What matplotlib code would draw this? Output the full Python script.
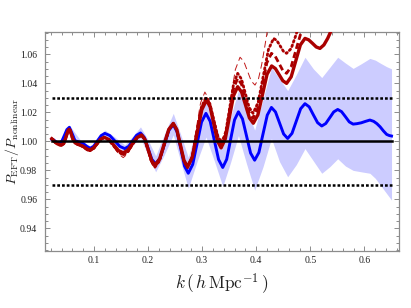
import matplotlib
matplotlib.use("Agg")
import matplotlib.pyplot as plt

# ---- data ----
k_blue = [0.022, 0.0255, 0.029, 0.0325, 0.036, 0.0406, 0.0453, 0.0499, 0.0545, 0.060,
          0.065, 0.072, 0.080, 0.087, 0.093, 0.0998, 0.1065, 0.1133, 0.120, 0.1293,
          0.1385, 0.1478, 0.157, 0.1643, 0.1715, 0.1788, 0.186, 0.193, 0.200, 0.207,
          0.214, 0.2222, 0.2303, 0.2385, 0.2466, 0.2535, 0.2605, 0.2674, 0.2743, 0.2825,
          0.2907, 0.2988, 0.307, 0.3148, 0.3225, 0.3303, 0.338, 0.3453, 0.3525, 0.3598,
          0.367, 0.3745, 0.382, 0.3895, 0.397, 0.4048, 0.4125, 0.4203, 0.428, 0.4355,
          0.443, 0.4505, 0.458, 0.466, 0.474, 0.482, 0.490, 0.4978, 0.5055, 0.5133,
          0.521, 0.5284, 0.5358, 0.5431, 0.5505, 0.5576, 0.5648, 0.5719, 0.579, 0.586,
          0.594, 0.602, 0.610, 0.617, 0.623, 0.629, 0.635, 0.641, 0.646, 0.650]
p_blue = [1.0014, 1.0010, 0.9999, 0.9989, 0.9985, 1.0001, 1.0041, 1.0081, 1.0097, 1.0050,
          1.0006, 0.9995, 0.9985, 0.9965, 0.9952, 0.9967, 1.0004, 1.0040, 1.0055, 1.0040,
          1.0003, 0.9965, 0.9950, 0.9966, 1.0004, 1.0042, 1.0058, 1.0027, 0.9952, 0.9876,
          0.9845, 0.9885, 0.9980, 1.0076, 1.0115, 1.0066, 0.9948, 0.9829, 0.9780, 0.9841,
          0.9987, 1.0133, 1.0193, 1.0138, 1.0007, 0.9875, 0.9820, 0.9876, 1.0012, 1.0148,
          1.0204, 1.0155, 1.0037, 0.9919, 0.9870, 0.9923, 1.0052, 1.0181, 1.0234, 1.0203,
          1.0127, 1.0051, 1.0020, 1.0055, 1.0140, 1.0225, 1.0260, 1.0238, 1.0183, 1.0129,
          1.0106, 1.0123, 1.0163, 1.0203, 1.0220, 1.0205, 1.0170, 1.0134, 1.0119, 1.0122,
          1.0128, 1.0138, 1.0147, 1.0138, 1.0122, 1.0100, 1.0072, 1.0048, 1.0040, 1.0037]

k_band = [0.022, 0.036, 0.0545, 0.075, 0.093, 0.1065, 0.120, 0.1385, 0.157, 0.1715,
          0.186, 0.200, 0.214, 0.2303, 0.2466, 0.2605, 0.2743, 0.2907, 0.307, 0.3225,
          0.338, 0.3525, 0.367, 0.382, 0.397, 0.4125, 0.428, 0.443, 0.458, 0.474,
          0.490, 0.5055, 0.521, 0.5358, 0.5505, 0.5648, 0.579, 0.594, 0.610, 0.620,
          0.629, 0.641, 0.650]
band_hi = [1.0028, 0.9998, 1.0112, 1.0008, 0.9967, 1.0018, 1.0078, 1.0030, 0.9975, 1.0035,
           1.0100, 1.0010, 0.9900, 1.0050, 1.0193, 1.0045, 0.9890, 1.0110, 1.0310, 1.0145,
           0.9960, 1.0170, 1.0350, 1.0225, 1.0078, 1.0290, 1.0510, 1.0430, 1.0350, 1.0460,
           1.0580, 1.0500, 1.0440, 1.0510, 1.0580, 1.0540, 1.0503, 1.0535, 1.0572, 1.0560,
           1.0540, 1.0515, 1.0500]
band_lo = [1.0000, 0.9972, 1.0082, 0.9982, 0.9937, 0.9990, 1.0033, 0.9978, 0.9925, 0.9973,
           1.0022, 0.9905, 0.9790, 0.9910, 1.0045, 0.9858, 0.9676, 0.9862, 1.0030, 0.9865,
           0.9690, 0.9855, 1.0040, 0.9845, 0.9664, 0.9825, 1.0020, 0.9860, 0.9756, 0.9840,
           0.9950, 0.9865, 0.9780, 0.9825, 0.9880, 0.9830, 0.9800, 0.9790, 0.9780, 0.9745,
           0.9700, 0.9640, 0.9595]

k_red = [0.022, 0.025, 0.028, 0.032, 0.036, 0.040, 0.044, 0.047, 0.050, 0.052,
         0.054, 0.056, 0.058, 0.061, 0.065, 0.070, 0.074, 0.079, 0.084, 0.088,
         0.0926, 0.0992, 0.1058, 0.1124, 0.119, 0.1278, 0.1365, 0.1453, 0.154, 0.1625,
         0.171, 0.1795, 0.188, 0.1942, 0.2004, 0.2066, 0.2128, 0.2213, 0.2297, 0.2382,
         0.2466, 0.2532, 0.2598, 0.2664, 0.273, 0.2818, 0.2905, 0.2993, 0.308, 0.3148,
         0.3215, 0.3283, 0.335, 0.3427, 0.3503, 0.358, 0.3656, 0.3728, 0.3801, 0.3873,
         0.3945, 0.403, 0.4115, 0.4199, 0.4284, 0.4353, 0.4422, 0.4491, 0.456, 0.4645,
         0.473, 0.4815, 0.490, 0.4969, 0.5039, 0.5108, 0.5177, 0.525, 0.532, 0.539,
         0.546]
p_red = [1.0018, 1.0008, 0.9995, 0.9984, 0.9977, 0.9975, 0.9985, 1.0015, 1.0050, 1.0072,
         1.0083, 1.0075, 1.0050, 1.0015, 0.9990, 0.9980, 0.9975, 0.9968, 0.9955, 0.9946,
         0.9941, 0.9954, 0.9985, 1.0015, 1.0028, 1.0012, 0.9975, 0.9937, 0.9921, 0.9939,
         0.9983, 1.0026, 1.0044, 1.0014, 0.9941, 0.9867, 0.9837, 0.9879, 0.9981, 1.0082,
         1.0124, 1.0080, 0.9975, 0.9869, 0.9825, 0.9892, 1.0055, 1.0218, 1.0285, 1.0237,
         1.0120, 1.0003, 0.9955, 1.0017, 1.0166, 1.0315, 1.0377, 1.0340, 1.0251, 1.0162,
         1.0125, 1.0183, 1.0323, 1.0462, 1.0520, 1.0502, 1.0460, 1.0418, 1.0400, 1.0445,
         1.0555, 1.0665, 1.0710, 1.0700, 1.0676, 1.0651, 1.0641, 1.0665, 1.0710, 1.0768,
         1.0830]

k_early = k_red[:44]

k_dot = k_early + [0.273, 0.2815, 0.290, 0.2985, 0.307, 0.3143, 0.3215, 0.3288, 0.336, 0.3434,
                   0.3508, 0.3582, 0.3656, 0.3727, 0.3798, 0.3869, 0.394, 0.4035, 0.413, 0.4225,
                   0.432, 0.438, 0.444, 0.450, 0.456, 0.4645, 0.473, 0.4815]
p_dot = [1.0018, 1.0008, 0.9995, 0.9984, 0.9977, 0.9973, 0.9985, 1.0015, 1.0050, 1.0072,
         1.0083, 1.0075, 1.0050, 1.0015, 0.9990, 0.9980, 0.9973, 0.9965, 0.9952, 0.9942,
         0.9936, 0.9950, 0.9983, 1.0013, 1.0026, 1.0008, 0.9968, 0.9928, 0.9906, 0.9928,
         0.9978, 1.0022, 1.0042, 1.0010, 0.9934, 0.9856, 0.9824, 0.9866, 0.9974, 1.0078,
         1.0124, 1.0078, 0.9970, 0.9862,
         0.9818, 0.9889, 1.0062, 1.0234, 1.0305, 1.0259, 1.0148, 1.0036, 0.9990, 1.0060,
         1.0230, 1.0399, 1.0469, 1.0429, 1.0331, 1.0233, 1.0193, 1.0269, 1.0452, 1.0634,
         1.0710, 1.0695, 1.0659, 1.0622, 1.0607, 1.0640, 1.0730, 1.0830]

k_dash = k_early + [0.273, 0.2815, 0.290, 0.2985, 0.307, 0.3143, 0.3215, 0.3288, 0.336, 0.3434,
                    0.3508, 0.3582, 0.3656, 0.3727, 0.3798, 0.3869, 0.394, 0.4025, 0.411, 0.4195,
                    0.428, 0.435, 0.442, 0.449, 0.456, 0.4645, 0.473, 0.4815, 0.490]
p_dash = [1.0018, 1.0008, 0.9995, 0.9984, 0.9977, 0.9974, 0.9985, 1.0015, 1.0050, 1.0072,
          1.0083, 1.0075, 1.0050, 1.0015, 0.9990, 0.9980, 0.9974, 0.9966, 0.9953, 0.9944,
          0.9938, 0.9952, 0.9984, 1.0014, 1.0027, 1.0010, 0.9971, 0.9931, 0.9910, 0.9932,
          0.9980, 1.0024, 1.0043, 1.0012, 0.9937, 0.9860, 0.9829, 0.9872, 0.9977, 1.0080,
          1.0124, 1.0079, 0.9972, 0.9865,
          0.9822, 0.9891, 1.0059, 1.0226, 1.0295, 1.0249, 1.0138, 1.0026, 0.9980, 1.0047,
          1.0207, 1.0368, 1.0434, 1.0394, 1.0297, 1.0199, 1.0159, 1.0225, 1.0383, 1.0541,
          1.0607, 1.0587, 1.0538, 1.0489, 1.0469, 1.0515, 1.0625, 1.0735, 1.0800]

k_thin = k_early + [0.273, 0.281, 0.289, 0.297, 0.305, 0.3125, 0.320, 0.3275, 0.335, 0.3438,
                    0.3525, 0.3613, 0.370, 0.3769, 0.3838, 0.3907, 0.3976, 0.404, 0.410, 0.416,
                    0.422]
p_thin = [1.0018, 1.0008, 0.9995, 0.9984, 0.9976, 0.9970, 0.9982, 1.0013, 1.0048, 1.0070,
          1.0080, 1.0072, 1.0047, 1.0012, 0.9988, 0.9977, 0.9970, 0.9960, 0.9945, 0.9933,
          0.9928, 0.9945, 0.9980, 1.0011, 1.0022, 1.0003, 0.9960, 0.9915, 0.9888, 0.9915,
          0.9970, 1.0018, 1.0040, 1.0005, 0.9925, 0.9845, 0.9815, 0.9860, 0.9970, 1.0078,
          1.0125, 1.0082, 0.9980, 0.9875,
          0.9830, 0.9905, 1.0085, 1.0265, 1.0340, 1.0290, 1.0170, 1.0050, 1.0000, 1.0085,
          1.0290, 1.0495, 1.0580, 1.0552, 1.0484, 1.0416, 1.0388, 1.0430, 1.0530, 1.0660,
          1.0800]

ref_levels = [1.00, 1.03, 0.97]
x_ticks = [0.1, 0.2, 0.3, 0.4, 0.5, 0.6]
y_ticks = [0.94, 0.96, 0.98, 1.00, 1.02, 1.04, 1.06]

# ---- figure ----
plt.rcParams['mathtext.fontset'] = 'cm'
fig = plt.figure(figsize=(4.11, 3.08), dpi=100)
ax = fig.add_axes([0.1107, 0.186, 0.8601, 0.7091])

dark_red = '#aa0000'
ax.fill_between(k_band, band_lo, band_hi, color='#ccccff', lw=0, zorder=1)
ax.plot(k_blue, p_blue, color='#0000ff', lw=2.1, zorder=2)
ax.plot(k_thin, p_thin, color='#c01818', lw=0.7, ls=(0, (7, 4)), zorder=3)
ax.plot(k_dash, p_dash, color=dark_red, lw=2.0, ls=(0, (2.2, 1.2)), zorder=3)
ax.plot(k_dot, p_dot, color=dark_red, lw=2.0, ls=(0, (0.6, 1.1)), dash_capstyle='round', zorder=3)
ax.plot(k_red, p_red, color=dark_red, lw=2.4, zorder=3)

k0, k1 = k_blue[0], k_blue[-1]
ax.plot([k0, k1], [ref_levels[0]] * 2, color='black', lw=1.8, zorder=4)
for lev in ref_levels[1:]:
    ax.plot([k0, k1], [lev] * 2, color='black', lw=1.8, ls=(0, (1.1, 0.8)), zorder=4)

ax.set_xlim(0.0104, 0.6638)
ax.set_ylim(0.9246, 1.0752)
ax.set_xticks(x_ticks)
ax.set_xticklabels([f'{t:.1f}' for t in x_ticks])
ax.set_yticks(y_ticks)
ax.set_yticklabels([f'{t:.2f}' for t in y_ticks])
ax.set_xticks([0.02 * i for i in range(1, 34)], minor=True)
ax.set_yticks([0.925 + 0.005 * i for i in range(31)], minor=True)

for s in ax.spines.values():
    s.set_color('#8c8c8c')
    s.set_linewidth(0.9)
ax.tick_params(which='both', direction='in', top=True, right=True, color='#8c8c8c',
               width=0.7, labelsize=7, labelfontfamily='Liberation Serif', labelcolor='#222222')
ax.tick_params(which='major', length=3.5)
ax.tick_params(which='minor', length=2)
ax.tick_params(axis='x', pad=3.5)
ax.tick_params(axis='y', pad=6)

ax.set_xlabel(r'$k\,(\,h\,\mathrm{Mpc}^{-1}\,)$', fontsize=12.5, color='#222222')
ax.set_ylabel(r'$P_{\mathrm{EFT}}/P_{\mathrm{nonlinear}}$', fontsize=10, color='#222222')
ax.xaxis.set_label_coords(0.5, -0.095)
ax.yaxis.set_label_coords(-0.068, 0.5)

fig.savefig('out.png', dpi=100)
